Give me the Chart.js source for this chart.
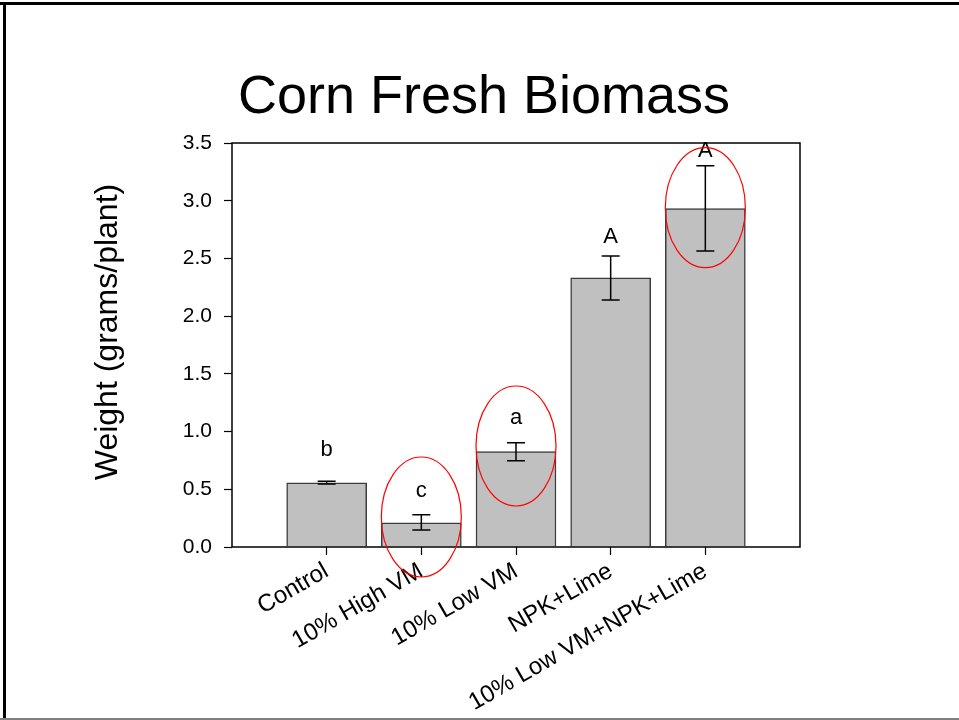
<!DOCTYPE html>
<html>
<head>
<meta charset="utf-8">
<script src="https://cdn.jsdelivr.net/npm/chart.js@4/dist/chart.umd.min.js"></script>
<style>
  body { margin: 0; background: #fff; }
  #wrap { width: 959px; height: 720px; }
</style>
</head>
<body>
<div id="wrap"><canvas id="biomassChart" width="959" height="720"></canvas></div>
<script>
// chart data
const categories = ['Control', '10% High VM', '10% Low VM', 'NPK+Lime', '10% Low VM+NPK+Lime'];
const weights = [0.557, 0.21, 0.826, 2.333, 2.931];
const errUpper = [0.569, 0.28, 0.904, 2.521, 3.303];
const errLower = [0.545, 0.147, 0.748, 2.14, 2.564];
const letters = ['b', 'c', 'a', 'A', 'A'];
const letterY = [0.84, 0.49, 1.12, 2.69, 3.43];
const yTicks = [0, 0.5, 1.0, 1.5, 2.0, 2.5, 3.0, 3.5];
// red ellipses drawn on the slide: category index + centre value
const circledIdx = [1, 2, 4];
const circledY = [0.26, 0.875, 2.94];

const FONT = '"Liberation Sans", Arial, sans-serif';

const overlayPlugin = {
    id: 'overlay',
    beforeDraw(chart) {
        const c = chart.ctx;
        c.save();
        c.fillStyle = '#fff';
        c.fillRect(0, 0, chart.width, chart.height);
        // slide frame
        c.fillStyle = '#000';
        c.fillRect(0, 2, chart.width, 3);
        c.fillRect(3, 2, 3, chart.height);
        c.fillStyle = '#808080';
        c.fillRect(0, 718, chart.width, 2);
        c.restore();
    },
    afterDatasetsDraw(chart) {
        const c = chart.ctx;
        const xs = chart.scales.x, ys = chart.scales.y;
        const area = chart.chartArea;
        c.save();
        // error bars
        c.strokeStyle = '#000';
        c.lineWidth = 1.5;
        categories.forEach((cat, i) => {
            const x = xs.getPixelForValue(i + 1);
            const yHi = ys.getPixelForValue(errUpper[i]);
            const yLo = ys.getPixelForValue(errLower[i]);
            c.beginPath();
            c.moveTo(x, yHi); c.lineTo(x, yLo);
            c.moveTo(x - 9, yHi); c.lineTo(x + 9, yHi);
            c.moveTo(x - 9, yLo); c.lineTo(x + 9, yLo);
            c.stroke();
        });
        // plot box
        c.lineWidth = 1.5;
        c.strokeRect(area.left, area.top, area.right - area.left, area.bottom - area.top);
        // significance letters
        c.fillStyle = '#000';
        c.font = '22px ' + FONT;
        c.textAlign = 'center';
        c.textBaseline = 'middle';
        letters.forEach((l, i) => {
            c.fillText(l, xs.getPixelForValue(i + 1), ys.getPixelForValue(letterY[i]));
        });
        // red ellipses
        c.strokeStyle = '#ff0000';
        c.lineWidth = 1.2;
        circledIdx.forEach((idx, k) => {
            c.beginPath();
            c.ellipse(xs.getPixelForValue(idx + 1), ys.getPixelForValue(circledY[k]), 40, 60, 0, 0, Math.PI * 2);
            c.stroke();
        });
        // titles
        c.fillStyle = '#000';
        c.font = '54px ' + FONT;
        c.textBaseline = 'alphabetic';
        c.fillText('Corn Fresh Biomass', 484, 113);
        c.translate(108, 332);
        c.rotate(-Math.PI / 2);
        c.font = '32px ' + FONT;
        c.textBaseline = 'middle';
        c.fillText('Weight (grams/plant)', 0, 0);
        c.restore();
    }
};

new Chart(document.getElementById('biomassChart'), {
    type: 'bar',
    data: {
        datasets: [{
            data: weights.map((w, i) => ({ x: i + 1, y: w })),
            backgroundColor: '#c0c0c0',
            borderColor: '#3c3c3c',
            borderWidth: 1.5,
            barThickness: 80
        }]
    },
    options: {
        responsive: false,
        animation: false,
        layout: { padding: { top: 143, right: 159, bottom: 0, left: 0 } },
        plugins: { legend: { display: false }, tooltip: { enabled: false } },
        scales: {
            x: {
                type: 'linear',
                offset: false,
                min: 0,
                max: categories.length + 1,
                afterBuildTicks: axis => {
                    axis.ticks = categories.map((c, i) => ({ value: i + 1 }));
                },
                afterFit: scale => { scale.height = 173; },
                border: { display: false },
                grid: { offset: false, drawOnChartArea: false, tickLength: 8, tickColor: '#000', tickWidth: 1.2 },
                ticks: {
                    autoSkip: false,
                    minRotation: 30,
                    maxRotation: 30,
                    padding: 2,
                    color: '#000',
                    font: { family: FONT, size: 24 },
                    callback: v => categories[v - 1] || ''
                }
            },
            y: {
                min: 0,
                max: 3.5,
                afterBuildTicks: axis => {
                    axis.ticks = yTicks.map(v => ({ value: v }));
                },
                afterFit: scale => { scale.width = 232; },
                border: { display: false },
                grid: { drawOnChartArea: false, tickLength: 8, tickColor: '#000', tickWidth: 1.2 },
                ticks: {
                    padding: 12,
                    color: '#000',
                    font: { family: FONT, size: 21 },
                    callback: v => v.toFixed(1)
                }
            }
        }
    },
    plugins: [overlayPlugin]
});
</script>
</body>
</html>
